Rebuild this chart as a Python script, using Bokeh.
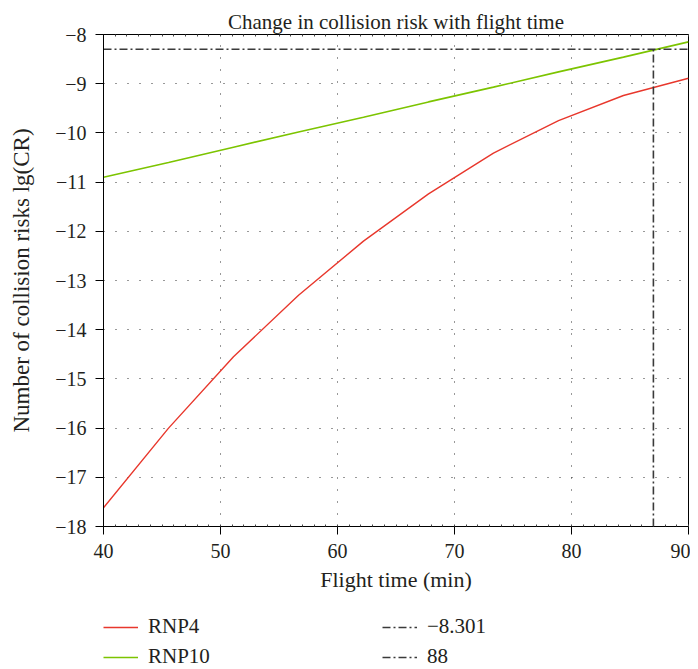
from bokeh.plotting import figure
from bokeh.models import Range1d, LinearAxis, Legend, LegendItem, FixedTicker
from bokeh.layouts import column
from bokeh.embed import file_html
from bokeh.resources import INLINE

# ---- data ----
flight_time = [40.0, 45.56, 51.11, 56.67, 62.22, 67.78, 73.33, 78.89, 84.44, 90.0]
rnp4 = [-17.62, -16.0, -14.55, -13.3, -12.2, -11.24, -10.41, -9.75, -9.24, -8.89]
rnp10 = [-10.9, -10.6, -10.29, -9.98, -9.68, -9.37, -9.07, -8.76, -8.46, -8.15]
threshold_cr = -8.301
threshold_time = 87.0
legend_labels = ["RNP4", "RNP10", "\u22128.301", "88"]
x_ticks = [40, 50, 60, 70, 80, 90]
x_minor = list(range(40, 91))
y_ticks = [-18, -17, -16, -15, -14, -13, -12, -11, -10, -9, -8]
title_text = "Change in collision risk with flight time"
x_label = "Flight time (min)"
y_label = "Number of collision risks lg(CR)"

FONT = "Liberation Serif"
TXT = "#231f20"
RED = "#e8372c"
GREEN = "#7cc400"
DARK = "#3a3a3a"
DASHDOT = "8 3 2 3"

p = figure(frame_width=585, frame_height=492, min_border_left=103, min_border_right=2,
           min_border_top=34, min_border_bottom=60,
           x_range=Range1d(40, 90), y_range=Range1d(-18, -8),
           output_backend="svg", toolbar_location=None, title=title_text)
p.title.text_font = FONT
p.title.text_font_size = "21px"
p.title.text_font_style = "normal"
p.title.text_color = TXT
p.title.align = "center"
p.title.offset = 0
p.title.standoff = 2

p.outline_line_color = "black"
p.outline_line_width = 1
p.background_fill_color = "white"
p.border_fill_color = "white"

# axes
xa = p.xaxis[0]
xa.ticker = FixedTicker(ticks=x_ticks, minor_ticks=x_minor)
ya = p.yaxis[0]
ya.ticker = FixedTicker(ticks=y_ticks, minor_ticks=[])
ya.major_label_overrides = {t: ("\u2212" + str(-t)) if t < 0 else str(t) for t in y_ticks}
for ax in (xa, ya):
    ax.major_label_text_font = FONT
    ax.major_label_text_font_size = "20px"
    ax.major_label_text_color = TXT
    ax.axis_label_text_font = FONT
    ax.axis_label_text_font_style = "normal"
    ax.axis_label_text_color = TXT
    ax.axis_line_color = "black"
    ax.major_tick_line_color = "black"
    ax.minor_tick_line_color = "#444444"
    ax.major_tick_out = 8
    ax.major_tick_in = 0
    ax.minor_tick_in = 2
    ax.minor_tick_out = 0
    ax.major_label_standoff = 9
xa.axis_label = x_label
ya.axis_label = y_label
xa.axis_label_text_font_size = "22px"
ya.axis_label_text_font_size = "23px"
xa.axis_label_standoff = 6
ya.axis_label_standoff = 18

top = LinearAxis(ticker=FixedTicker(ticks=[], minor_ticks=x_minor))
top.major_tick_in = 0
top.major_tick_out = 0
top.minor_tick_in = 2
top.minor_tick_out = 0
top.minor_tick_line_color = "#444444"
top.axis_line_color = "black"
top.major_label_standoff = 0
p.add_layout(top, "above")

# grid
for g in (p.xgrid[0], p.ygrid[0]):
    g.grid_line_color = "#333333"
    g.grid_line_width = 1
    g.grid_line_dash = "1 11"
p.xgrid[0].ticker = FixedTicker(ticks=x_ticks)
p.ygrid[0].ticker = FixedTicker(ticks=y_ticks)

# series
p.line(flight_time, rnp4, line_color=RED, line_width=1.4)
p.line(flight_time, rnp10, line_color=GREEN, line_width=1.6)
p.line([x_ticks[0], x_ticks[-1]], [threshold_cr, threshold_cr],
       line_color=DARK, line_width=1.6, line_dash=DASHDOT)
p.line([threshold_time, threshold_time], [y_ticks[0], threshold_cr],
       line_color=DARK, line_width=1.6, line_dash=DASHDOT)

# legend strip below the chart (its renderers carry the same series, which fall
# outside this strip's range, so only the legend shows)
q = figure(frame_width=585, frame_height=52, min_border_left=103, min_border_right=2,
           min_border_top=20, min_border_bottom=0,
           x_range=Range1d(40, 90), y_range=Range1d(100, 101),
           output_backend="svg", toolbar_location=None)
q.axis.visible = False
q.grid.visible = False
q.outline_line_color = None
q.border_fill_color = "white"
q.background_fill_color = "white"
l1 = q.line(flight_time, rnp4, line_color=RED, line_width=1.4)
l2 = q.line(flight_time, rnp10, line_color=GREEN, line_width=1.6)
l3 = q.line([x_ticks[0], x_ticks[-1]], [threshold_cr, threshold_cr],
            line_color=DARK, line_width=1.3, line_dash=DASHDOT)
l4 = q.line([threshold_time, threshold_time], [y_ticks[0], threshold_cr],
            line_color=DARK, line_width=1.3, line_dash=DASHDOT)

legend = Legend(items=[LegendItem(label=legend_labels[0], renderers=[l1]),
                       LegendItem(label=legend_labels[1], renderers=[l2]),
                       LegendItem(label=legend_labels[2], renderers=[l3]),
                       LegendItem(label=legend_labels[3], renderers=[l4])],
                nrows=2, orientation="vertical",
                location="top_left", padding=0, margin=0, spacing=5,
                glyph_width=35, glyph_height=20, label_height=20, label_width=229,
                label_standoff=10, label_text_font=FONT, label_text_font_size="21px",
                label_text_color=TXT, border_line_color=None,
                background_fill_alpha=0)
q.add_layout(legend, "center")

layout = column(p, q, spacing=0)
open("out.html", "w").write(file_html(layout, INLINE))
